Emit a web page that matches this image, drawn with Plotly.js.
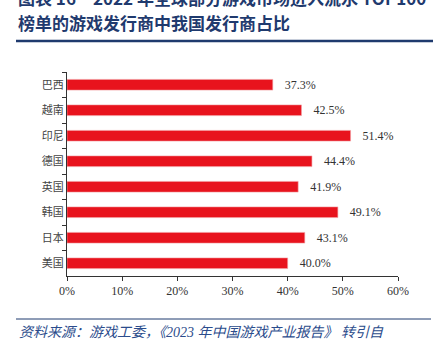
<!DOCTYPE html>
<html>
<head>
<meta charset="utf-8">
<script src="https://cdn.plot.ly/plotly-3.0.1.min.js"></script>
<style>html,body{margin:0;padding:0;background:#fff;}#chart{width:433px;height:351px;}</style>
</head>
<body>
<div id="chart"></div>
<script>
const categories = ['巴西','越南','印尼','德国','英国','韩国','日本','美国'];
const shares = [37.3, 42.5, 51.4, 44.4, 41.9, 49.1, 43.1, 40.0];
const tickVals = [0, 10, 20, 30, 40, 50, 60];
const tickText = ['0%','10%','20%','30%','40%','50%','60%'];
const titleLine1 = '图表 16　2022 年全球部分游戏市场进入流水 TOP100';
const titleLine2 = '榜单的游戏发行商中我国发行商占比';
const sourceText = '资料来源：游戏工委，《2023 年中国游戏产业报告》 转引自';

const L = 67, R = 398, T = 72, B = 276, W = 433, H = 351;
const px = p => (p - L) / (R - L);
const py = q => (B - q) / (B - T);

const fontTxt = '"Liberation Serif", "Noto Sans CJK SC", serif';
const blue = '#1F3A6E';

const trace = {
  type: 'bar',
  orientation: 'h',
  y: categories,
  x: shares,
  width: 0.42,
  marker: {color: '#E8131D', line: {color: '#F3A0A3', width: 0.6}},
  text: shares.map(v => '\u00a0\u00a0\u00a0' + v.toFixed(1) + '%'),
  textposition: 'outside',
  constraintext: 'none',
  cliponaxis: false,
  textfont: {family: fontTxt, size: 12, color: '#333'},
  hoverinfo: 'none'
};

const layout = {
  width: W, height: H,
  margin: {l: L, r: W - R, t: T, b: H - B, pad: 0},
  paper_bgcolor: '#fff', plot_bgcolor: '#fff',
  showlegend: false,
  xaxis: {
    range: [0, 60], tickvals: tickVals, ticktext: tickText,
    showgrid: false, zeroline: false,
    showline: true, linecolor: '#333', linewidth: 1,
    ticks: 'outside', ticklen: 4, tickcolor: '#333',
    tickfont: {family: fontTxt, size: 12, color: '#333'}
  },
  yaxis: {
    type: 'category', autorange: 'reversed',
    showgrid: false, zeroline: false,
    showline: true, linecolor: '#333', linewidth: 1,
    ticks: 'outside', ticklen: 4, tickcolor: '#333', tickson: 'boundaries',
    tickfont: {family: fontTxt, size: 11, color: '#444'}
  },
  annotations: [
    {text: '<b>' + titleLine1 + '</b>', xref: 'paper', yref: 'paper', x: px(16), y: py(-3),
     xanchor: 'left', yanchor: 'middle', showarrow: false,
     font: {family: '"Noto Sans CJK SC", sans-serif', size: 17, color: blue}},
    {text: '<b>' + titleLine2 + '</b>', xref: 'paper', yref: 'paper', x: px(16), y: py(23),
     xanchor: 'left', yanchor: 'middle', showarrow: false,
     font: {family: '"Noto Sans CJK SC", sans-serif', size: 17, color: blue}},
    {text: '<i>' + sourceText + '</i>', xref: 'paper', yref: 'paper', x: px(17), y: py(332),
     xanchor: 'left', yanchor: 'middle', showarrow: false,
     font: {family: '"Liberation Serif", "Noto Sans CJK SC", serif', size: 14, color: '#2B4C8C'}}
  ],
  shapes: [
    {type: 'line', xref: 'paper', yref: 'paper', x0: px(16), x1: px(433), y0: py(41), y1: py(41),
     line: {color: blue, width: 2.5}},
    {type: 'line', xref: 'paper', yref: 'paper', x0: px(16), x1: px(431), y0: py(319), y1: py(319),
     line: {color: blue, width: 1}}
  ]
};

Plotly.newPlot('chart', [trace], layout, {staticPlot: true, displayModeBar: false});
</script>
</body>
</html>
